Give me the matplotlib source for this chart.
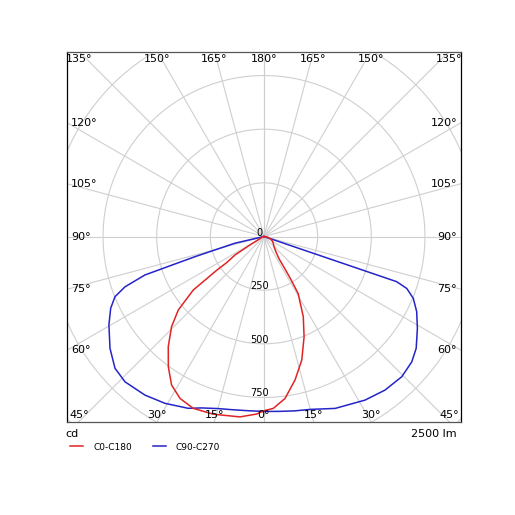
import numpy as np
import matplotlib
matplotlib.use("Agg")
import matplotlib.pyplot as plt
from matplotlib.patches import Circle

# gamma angles (deg from nadir) and intensities (cd)
red_left_deg = [0, 2.4, 7.6, 15.9, 22.4, 27.4, 31.9, 36.3, 41, 45.7, 49.4, 52.9, 54.5, 55,
                57.5, 59, 62, 70, 80, 90]
red_left_cd = [812, 828, 848, 861, 866, 850, 815, 753, 680, 602, 526, 413, 270, 213,
               160, 76, 20, 8, 3, 0]
red_right_deg = [0, 3.1, 7.4, 12.2, 17, 21.8, 26.1, 30.9, 32, 33, 34, 38, 45, 50, 55, 60,
                 66, 70, 75, 80, 85, 90]
red_right_cd = [812, 802, 761, 684, 602, 503, 416, 310, 240, 175, 125, 90, 66, 58, 52, 46,
                38, 32, 25, 15, 7, 0]

blue_left_deg = [0, 5, 10, 15, 20, 23.8, 30.7, 36.9, 43.7, 48.5, 54, 60.3, 64.9, 68, 70.1,
                 72.1, 73.7, 77, 90]
blue_left_cd = [815, 815, 820, 830, 850, 875, 904, 924, 937, 927, 887, 832, 789, 749, 689,
                583, 335, 140, 0]
blue_right_deg = [0, 5, 10, 15, 22.5, 31.7, 38.2, 44.5, 49.7, 53.7, 59.1, 63.8, 67.5, 70,
                  71.2, 90]
blue_right_cd = [815, 818, 825, 834, 867, 896, 911, 916, 903, 880, 833, 793, 753, 708,
                 653, 0]

series_names = ["C0-C180", "C90-C270"]
series_colors = ["#e02424", "#2424c8"]
ring_values = [250, 500, 750, 1000, 1250]
ring_labels = ["0", "250", "500", "750"]
flux_text = "2500 lm"
unit_text = "cd"

PX = 515
XMAX = 918.0
YMAX = 862.0


def to_xy(left_deg, left_cd, right_deg, right_cd):
    la = np.radians(np.array(left_deg)[::-1])
    lr = np.array(left_cd)[::-1]
    ra = np.radians(np.array(right_deg))
    rr = np.array(right_cd)
    x = np.concatenate([-lr * np.sin(la), rr * np.sin(ra)])
    y = np.concatenate([-lr * np.cos(la), -rr * np.cos(ra)])
    return x, y


fig = plt.figure(figsize=(PX / 100, PX / 100), dpi=100)
ax = fig.add_axes([67 / PX, 1 - 421.5 / PX, 394 / PX, 370 / PX])
ax.set_xlim(-XMAX, XMAX)
ax.set_ylim(-YMAX, YMAX)
ax.set_xticks([])
ax.set_yticks([])
for sp in ax.spines.values():
    sp.set_linewidth(0.9)
    sp.set_color("black")
ax.spines["top"].set_color("#555555")
ax.spines["bottom"].set_color("#555555")

grid_kw = dict(color="#cfcfcf", lw=0.8, zorder=1)
for r in ring_values:
    ax.add_patch(Circle((0, 0), r, fill=False, ec="#cfcfcf", lw=0.8, zorder=1))

# spokes every 15 deg, labels where they meet the frame
for side in (-1, 1):
    for a in range(0, 181, 15):
        ar = np.radians(a)
        dx, dy = side * np.sin(ar), -np.cos(ar)
        ax.plot([0, 3000 * dx], [0, 3000 * dy], **grid_kw)
        if side == 1 and a in (0, 180):
            continue
        tx = XMAX / abs(dx) if abs(dx) > 1e-9 else np.inf
        ty = YMAX / abs(dy) if abs(dy) > 1e-9 else np.inf
        lab = f"{a}°"
        if ty <= tx:
            x = ty * dx
            y = np.sign(dy) * YMAX
            off = (0, -8 if dy > 0 else 7)
            ax.annotate(lab, (x, y), xytext=off, textcoords="offset pixels",
                        ha="center", va="center", fontsize=8, zorder=5)
        else:
            x = np.sign(dx) * XMAX
            y = tx * dy
            off = (4, 0) if dx < 0 else (-4, 0)
            ax.annotate(lab, (x, y), xytext=off, textcoords="offset pixels",
                        ha="left" if dx < 0 else "right", va="center",
                        fontsize=8, zorder=5)

for i, lab in enumerate(ring_labels):
    r = 250 * i
    ax.annotate(lab, (0, -r), xytext=(-4.5, 4), textcoords="offset pixels",
                ha="center", va="center", fontsize=7, zorder=5)

xr, yr = to_xy(red_left_deg, red_left_cd, red_right_deg, red_right_cd)
xb, yb = to_xy(blue_left_deg, blue_left_cd, blue_right_deg, blue_right_cd)
l1, = ax.plot(xr, yr, color=series_colors[0], lw=1.1, zorder=4)
l2, = ax.plot(xb, yb, color=series_colors[1], lw=1.1, zorder=3)

fig.text(65 / PX, 1 - 434 / PX, unit_text, fontsize=8, ha="left", va="center")
fig.text(457 / PX, 1 - 434 / PX, flux_text, fontsize=8, ha="right", va="center")

fig.legend([l1, l2], series_names, loc="center left",
           bbox_to_anchor=(70 / PX, 1 - 447 / PX), frameon=False, ncol=2,
           fontsize=6.5, handlelength=1.45, handletextpad=1.1,
           columnspacing=2.3, borderpad=0, borderaxespad=0)

fig.savefig("out.png", dpi=100)
